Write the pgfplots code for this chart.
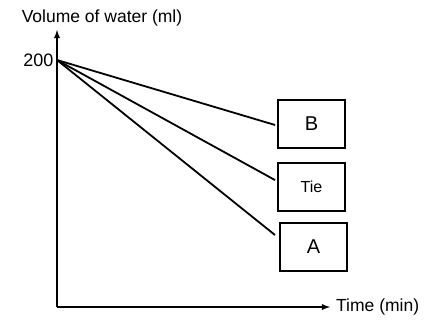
\documentclass[border=0pt]{standalone}
\usepackage{pgfplots}
\pgfplotsset{compat=1.18}
\usepackage{fontspec}
\setmainfont{Liberation Sans}
\begin{document}
\begin{tikzpicture}
\begin{axis}[
  scale only axis,
  width=273pt, height=277pt,
  xmin=0, xmax=273,
  ymin=0, ymax=224.3,
  axis lines=left,
  axis line style={line width=1.8pt, -latex},
  xtick=\empty,
  ytick={200},
  major tick length=0pt,
  yticklabel style={font=\fontsize{18}{20}\selectfont},
  /pgf/number format/assume math mode=true,
  clip=false,
]
\addplot[black, line width=1.8pt] coordinates {(0,200) (218,147.4)};
\addplot[black, line width=1.8pt] coordinates {(0,200) (218,102.8)};
\addplot[black, line width=1.8pt] coordinates {(0,200) (218,58.3)};
\node[draw, line width=1.8pt, minimum width=67pt, minimum height=48pt, font=\fontsize{20}{22}\selectfont] at (axis cs:254.5,148.2) {B};
\node[draw, line width=1.8pt, minimum width=67pt, minimum height=48pt, font=\fontsize{16}{18}\selectfont] at (axis cs:254.5,97.2) {Tie};
\node[draw, line width=1.8pt, minimum width=67pt, minimum height=48pt, font=\fontsize{20}{22}\selectfont] at (axis cs:256.5,48.6) {A};
\node[font=\fontsize{17.5}{19}\selectfont] at (axis cs:45,234) {Volume of water (ml)};
\node[anchor=west, font=\fontsize{17.5}{19}\selectfont, inner sep=1pt] at (axis cs:278,0) {Time (min)};
\path (axis cs:-57,-15.4) rectangle (axis cs:371,248.6);
\end{axis}
\end{tikzpicture}
\end{document}
